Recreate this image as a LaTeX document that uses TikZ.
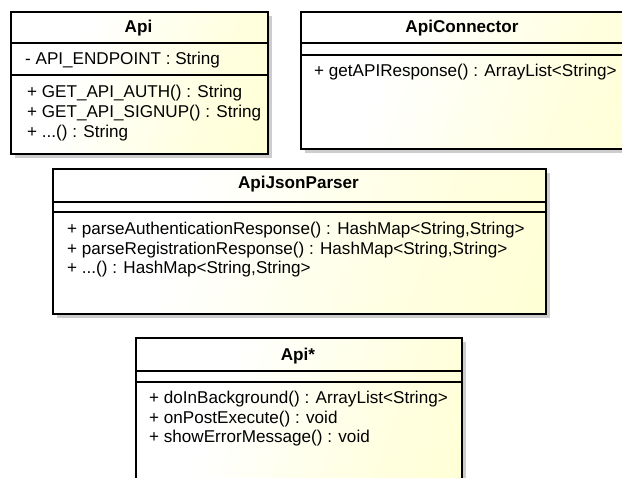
\documentclass[tikz,border=0pt]{standalone}
\usepackage{fontspec}
\setmainfont{Liberation Sans}
\definecolor{ylw}{RGB}{255,255,200}
\definecolor{shd}{RGB}{205,205,205}
\pgfdeclarehorizontalshading{umlshade}{100bp}{color(0bp)=(white); color(35bp)=(white); color(65bp)=(ylw!55!white); color(100bp)=(ylw)}
\tikzset{
  classbox/.style={draw=black, line width=2.2pt, anchor=north west, inner sep=0pt,
    shading=umlshade, shading angle=-20},
  shadowbox/.style={fill=shd, anchor=north west, inner sep=0pt},
  sep/.style={draw=black, line width=1.1pt},
  title/.style={font=\fontsize{17.1}{19}\selectfont\bfseries, inner sep=0pt},
  member/.style={font=\fontsize{17.1}{19}\selectfont, anchor=west, inner sep=0pt},
}
\begin{document}
\begin{tikzpicture}[x=1pt,y=-1pt]
\clip (0,0) rectangle (622,478);
\fill[white] (0,0) rectangle (622,478);
% shadows
\node[shadowbox, minimum width=257pt, minimum height=142pt] (apiS) at (15,16) {};
\node[shadowbox, minimum width=340pt, minimum height=137pt] (conS) at (305,16) {};
\node[shadowbox, minimum width=493pt, minimum height=145pt] (jpS) at (57,173) {};
\node[shadowbox, minimum width=326pt, minimum height=170pt] (taskS) at (140,342) {};
% Api
\node[classbox, minimum width=257pt, minimum height=142pt] (api) at (10,11) {};
\coordinate (a1) at (10,43); \coordinate (a2) at (10,75);
\draw[sep] (a1) -- ++(257,0);
\draw[sep] (a2) -- ++(257,0);
\node[title] (apiT) at (138.5,28) {Api};
\node[member] (apiA1) at (25,60) {- API\_ENDPOINT : String};
\node[member] (apiM1) at (27,93) {+ GET\_API\_AUTH() : String};
\node[member] (apiM2) at (27,113) {+ GET\_API\_SIGNUP() : String};
\node[member] (apiM3) at (27,133) {+ ...() : String};
% ApiConnector
\node[classbox, minimum width=340pt, minimum height=137pt] (con) at (300,11) {};
\coordinate (c1) at (300,43); \coordinate (c2) at (300,55);
\draw[sep] (c1) -- ++(340,0);
\draw[sep] (c2) -- ++(340,0);
\node[title] (conT) at (462,28) {ApiConnector};
\node[member] (conM1) at (314,72) {+ getAPIResponse() : ArrayList<String>};
% ApiJsonParser
\node[classbox, minimum width=493pt, minimum height=145pt] (jp) at (52,168) {};
\coordinate (j1) at (52,202); \coordinate (j2) at (52,212);
\draw[sep] (j1) -- ++(493,0);
\draw[sep] (j2) -- ++(493,0);
\node[title] (jpT) at (298.5,184) {ApiJsonParser};
\node[member] (jpM1) at (67,230) {+ parseAuthenticationResponse() : HashMap<String,String>};
\node[member] (jpM2) at (67,250) {+ parseRegistrationResponse() : HashMap<String,String>};
\node[member] (jpM3) at (67,269) {+ ...() : HashMap<String,String>};
% Api*
\node[classbox, minimum width=326pt, minimum height=170pt] (task) at (135,337) {};
\coordinate (t1) at (135,371); \coordinate (t2) at (135,382);
\draw[sep] (t1) -- ++(326,0);
\draw[sep] (t2) -- ++(326,0);
\node[title] (taskT) at (298,356) {Api*};
\node[member] (taskM1) at (149,399) {+ doInBackground() : ArrayList<String>};
\node[member] (taskM2) at (149,419) {+ onPostExecute() : void};
\node[member] (taskM3) at (149,438) {+ showErrorMessage() : void};
\end{tikzpicture}
\end{document}
